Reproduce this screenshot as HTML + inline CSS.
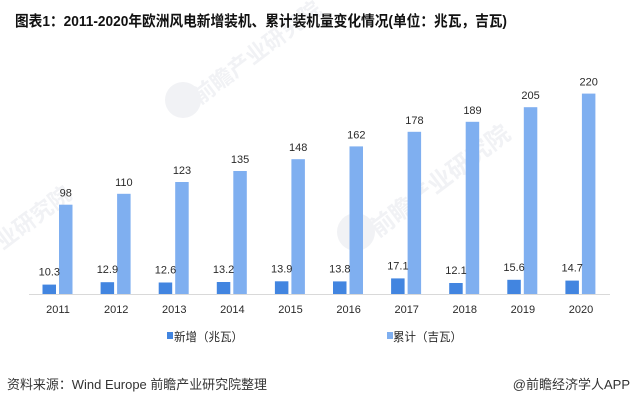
<!DOCTYPE html>
<html><head><meta charset="utf-8"><style>
html,body{margin:0;padding:0;background:#fff;}
svg{display:block;}
text{font-family:"Liberation Sans","Noto Sans CJK SC",sans-serif;}
</style></head><body>
<svg width="631" height="405" viewBox="0 0 631 405" xmlns="http://www.w3.org/2000/svg">
<rect width="631" height="405" fill="#fff"/>
<!-- watermarks -->
<g fill="#f1f2f5">
  <circle cx="183" cy="100" r="18"/>
  <circle cx="356" cy="232" r="19"/>
  <text x="200" y="105" font-size="22" font-weight="bold" transform="rotate(-37 200 105)">前瞻产业研究院</text>
  <text x="-50" y="290" font-size="22" font-weight="bold" transform="rotate(-37 -50 290)">前瞻产业研究院</text>
  <text x="378" y="238" font-size="24" font-weight="bold" transform="rotate(-37 378 238)">前瞻产业研究院</text>
</g>
<!-- title -->
<text x="15" y="26" font-size="15" font-weight="bold" fill="#111" textLength="492" lengthAdjust="spacingAndGlyphs">图表1：2011-2020年欧洲风电新增装机、累计装机量变化情况(单位：兆瓦，吉瓦)</text>
<!-- axis -->
<line x1="29" y1="294.5" x2="610" y2="294.5" stroke="#d9d9d9" stroke-width="1"/>
<g font-size="11" fill="#2a2a2a" text-anchor="middle">
<rect x="42.5" y="284.6" width="13.5" height="9.4" fill="#4285e0"/>
<rect x="59.0" y="204.7" width="13.5" height="89.3" fill="#7faff0"/>
<text x="49.3" y="275.6">10.3</text><text x="65.8" y="196.7">98</text><text x="58" y="313">2011</text>

<rect x="100.6" y="282.2" width="13.5" height="11.8" fill="#4285e0"/>
<rect x="117.1" y="193.8" width="13.5" height="100.2" fill="#7faff0"/>
<text x="107.4" y="273.2">12.9</text><text x="123.9" y="185.8">110</text><text x="116.2" y="313">2012</text>

<rect x="158.7" y="282.5" width="13.5" height="11.5" fill="#4285e0"/>
<rect x="175.2" y="182.0" width="13.5" height="112.0" fill="#7faff0"/>
<text x="165.5" y="273.5">12.6</text><text x="182.0" y="174.0">123</text><text x="174.3" y="313">2013</text>

<rect x="216.8" y="282.0" width="13.5" height="12.0" fill="#4285e0"/>
<rect x="233.3" y="171.0" width="13.5" height="123.0" fill="#7faff0"/>
<text x="223.6" y="273.0">13.2</text><text x="240.1" y="163.0">135</text><text x="232.4" y="313">2014</text>

<rect x="274.9" y="281.3" width="13.5" height="12.7" fill="#4285e0"/>
<rect x="291.4" y="159.2" width="13.5" height="134.8" fill="#7faff0"/>
<text x="281.7" y="272.3">13.9</text><text x="298.2" y="151.2">148</text><text x="290.5" y="313">2015</text>

<rect x="333.0" y="281.4" width="13.5" height="12.6" fill="#4285e0"/>
<rect x="349.5" y="146.4" width="13.5" height="147.6" fill="#7faff0"/>
<text x="339.8" y="272.4">13.8</text><text x="356.3" y="138.4">162</text><text x="348.6" y="313">2016</text>

<rect x="391.1" y="278.4" width="13.5" height="15.6" fill="#4285e0"/>
<rect x="407.6" y="131.8" width="13.5" height="162.2" fill="#7faff0"/>
<text x="397.9" y="269.4">17.1</text><text x="414.4" y="123.8">178</text><text x="406.7" y="313">2017</text>

<rect x="449.2" y="283.0" width="13.5" height="11.0" fill="#4285e0"/>
<rect x="465.7" y="121.8" width="13.5" height="172.2" fill="#7faff0"/>
<text x="456.0" y="274.0">12.1</text><text x="472.5" y="113.8">189</text><text x="464.8" y="313">2018</text>

<rect x="507.3" y="279.8" width="13.5" height="14.2" fill="#4285e0"/>
<rect x="523.8" y="107.2" width="13.5" height="186.8" fill="#7faff0"/>
<text x="514.1" y="270.8">15.6</text><text x="530.6" y="99.2">205</text><text x="522.9" y="313">2019</text>

<rect x="565.4" y="280.6" width="13.5" height="13.4" fill="#4285e0"/>
<rect x="581.9" y="93.6" width="13.5" height="200.4" fill="#7faff0"/>
<text x="572.2" y="271.6">14.7</text><text x="588.7" y="85.6">220</text><text x="581.0" y="313">2020</text>
</g>
<!-- legend -->
<rect x="167" y="332" width="6" height="7" fill="#4285e0"/>
<text x="174" y="341" font-size="12" fill="#2a2a2a" textLength="69" lengthAdjust="spacingAndGlyphs">新增（兆瓦）</text>
<rect x="387" y="332" width="6" height="7" fill="#7faff0"/>
<text x="393" y="341" font-size="12" fill="#2a2a2a" textLength="69" lengthAdjust="spacingAndGlyphs">累计（吉瓦）</text>
<!-- source -->
<text x="7" y="389" font-size="13" fill="#333" textLength="260" lengthAdjust="spacingAndGlyphs">资料来源：Wind Europe 前瞻产业研究院整理</text>
<text x="630" y="389" font-size="13" fill="#333" text-anchor="end">@前瞻经济学人APP</text>
</svg>
</body></html>
